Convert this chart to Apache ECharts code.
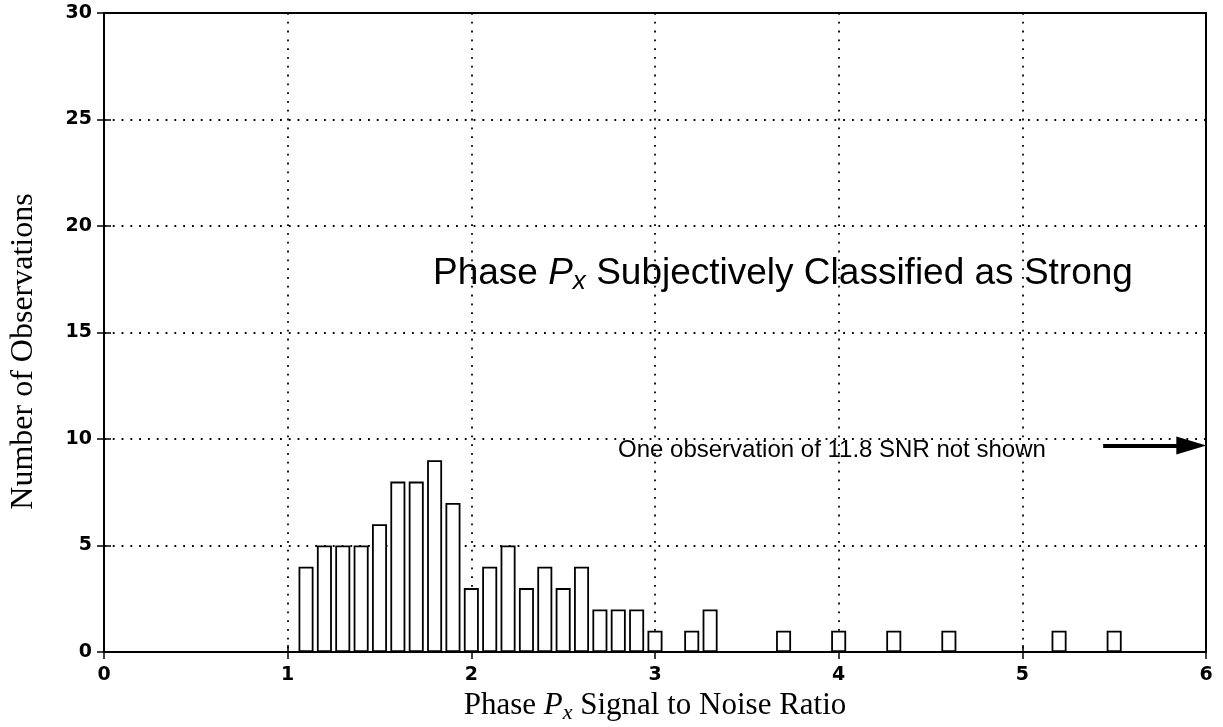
<!DOCTYPE html>
<html>
<head>
<meta charset="utf-8">
<script src="https://cdn.jsdelivr.net/npm/echarts@6/dist/echarts.min.js"></script>
<style>html,body{margin:0;padding:0;background:#fff;}#c{width:1223px;height:727px;}</style>
</head>
<body>
<div id="c"></div>
<script>
// SNR bin centres and counts
const snrBins = [1.1,1.2,1.3,1.4,1.5,1.6,1.7,1.8,1.9,2.0,2.1,2.2,2.3,2.4,2.5,2.6,2.7,2.8,2.9,3.0,3.2,3.3,3.7,4.0,4.3,4.6,5.2,5.5];
const counts  = [4,5,5,5,6,8,8,9,7,3,4,5,3,4,3,4,2,2,2,1,1,2,1,1,1,1,1,1];
const xTicks = [0,1,2,3,4,5,6];
const yTicks = [0,5,10,15,20,25,30];
const arrowFrom = [5.44, 9.7];
const arrowTo   = [5.92, 9.7];

const chart = echarts.init(document.getElementById('c'), null, {renderer:'canvas'});
const tickFont = {fontFamily:'DejaVu Sans', fontWeight:'bold', fontSize:19, color:'#000'};
const serif = 'Liberation Serif, Times New Roman, serif';
const sans = 'Liberation Sans, Arial, sans-serif';

chart.setOption({
  animation:false,
  backgroundColor:'#fff',
  grid:{left:104, right:17, top:13, bottom:75, show:true, borderColor:'#000', borderWidth:2,
        backgroundColor:'transparent', containLabel:false, outerBoundsMode:'none'},
  xAxis:[{
    type:'value', min:xTicks[0], max:xTicks[xTicks.length-1], interval:1,
    axisLine:{show:true, lineStyle:{color:'#000', width:2}},
    axisTick:{show:true, inside:true, length:7, lineStyle:{color:'#000', width:1.5}},
    axisLabel:Object.assign({margin:14}, tickFont),
    splitLine:{show:true, lineStyle:{color:'#000', width:1.8, type:[1.8,7]}},
    name:'{n|Phase }{p|P}{s|x}{n| Signal to Noise Ratio}',
    nameLocation:'middle', nameGap:36,
    nameTextStyle:{rich:{
      n:{fontFamily:serif, fontSize:31, color:'#000'},
      p:{fontFamily:serif, fontSize:31, fontStyle:'italic', color:'#000'},
      s:{fontFamily:serif, fontSize:22, fontStyle:'italic', color:'#000', padding:[14,0,0,0]}
    }}
  },{
    type:'value', position:'top', min:0, max:6, interval:1,
    axisLine:{show:true, lineStyle:{color:'#000', width:2}},
    axisTick:{show:true, inside:true, length:7, lineStyle:{color:'#000', width:1.5}},
    axisLabel:{show:false}, splitLine:{show:false}
  }],
  yAxis:[{
    type:'value', min:yTicks[0], max:yTicks[yTicks.length-1], interval:5,
    axisLine:{show:true, lineStyle:{color:'#000', width:2}},
    axisTick:{show:true, inside:true, length:7, lineStyle:{color:'#000', width:1.5}},
    axisLabel:Object.assign({margin:12}, tickFont),
    splitLine:{show:true, lineStyle:{color:'#000', width:1.8, type:[1.8,7]}},
    name:'Number of Observations', nameLocation:'middle', nameRotate:90, nameGap:64,
    nameTextStyle:{fontFamily:serif, fontSize:32, color:'#000', padding:[0,0,0,-38]}
  },{
    type:'value', position:'right', min:0, max:30, interval:5,
    axisLine:{show:true, lineStyle:{color:'#000', width:2}},
    axisTick:{show:true, inside:true, length:7, lineStyle:{color:'#000', width:1.5}},
    axisLabel:{show:false}, splitLine:{show:false}
  }],
  series:[{
    type:'bar',
    data:snrBins.map((x,i)=>[x, counts[i]]),
    barWidth:15,
    itemStyle:{color:'#fff', borderColor:'#000', borderWidth:1.8},
    markLine:{
      silent:true, symbol:['none','triangle'], symbolSize:[18,30],
      label:{show:false},
      lineStyle:{color:'#000', width:4, type:'solid'},
      data:[[{coord:arrowFrom},{coord:arrowTo}]]
    }
  }],
  graphic:[
    {type:'text', left:433, top:255, style:{
      text:'{a|Phase }{b|P}{c|x}{a| Subjectively Classified as Strong}',
      rich:{
        a:{fontFamily:sans, fontSize:37, fill:'#000'},
        b:{fontFamily:sans, fontSize:37, fontStyle:'italic', fill:'#000'},
        c:{fontFamily:sans, fontSize:26, fontStyle:'italic', fill:'#000', padding:[16,0,0,0]}
      }}},
    {type:'text', left:618, top:438, style:{
      text:'One observation of 11.8 SNR not shown',
      font:'24px Liberation Sans, Arial, sans-serif', fill:'#000'}}
  ]
});
</script>
</body>
</html>
